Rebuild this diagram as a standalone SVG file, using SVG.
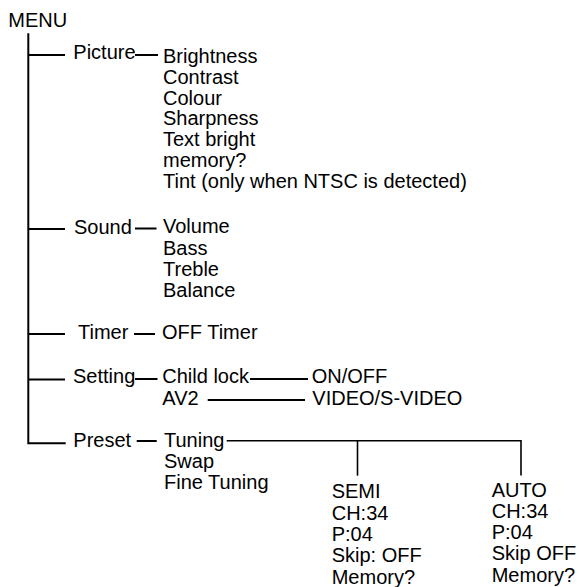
<svg xmlns="http://www.w3.org/2000/svg" width="579" height="587" viewBox="0 0 579 587">
<style>
text{font-family:"Liberation Sans",Arial,Helvetica,sans-serif;font-size:20px;fill:#000}
.c line,.c path{stroke:#000;stroke-width:2;fill:none}
.c .t{stroke-width:1.6}
</style>
<rect width="579" height="587" fill="#fff"/>
<g class="c" id="connectors">
<path d="M28.3 33.3V443.3H65.7"/>
<line x1="28.3" y1="55" x2="65" y2="55"/>
<line x1="135" y1="55" x2="158" y2="55"/>
<line x1="28.3" y1="229" x2="65" y2="229"/>
<line x1="135" y1="228.5" x2="156.5" y2="228.5"/>
<line x1="28.3" y1="334" x2="65" y2="334"/>
<line x1="134" y1="334" x2="155" y2="334"/>
<line x1="28.3" y1="379.5" x2="65" y2="379.5"/>
<line x1="135" y1="379" x2="157.5" y2="379"/>
<line x1="250" y1="379" x2="308" y2="379"/>
<line x1="207.7" y1="400" x2="305" y2="400"/>
<line x1="136.7" y1="441" x2="156.7" y2="441"/>
<path class="t" d="M226.7 440.7H521V475.5"/>
<line class="t" x1="357.5" y1="440.7" x2="357.5" y2="475.7"/>
</g>
<g id="menu"><text x="8.3" y="26.7">MENU</text></g>
<g id="picture"><text x="73.3" y="59.3">Picture</text></g>
<g id="picture-items">
<text x="163" y="62.7">Brightness</text>
<text x="163" y="83.6">Contrast</text>
<text x="163" y="104.5">Colour</text>
<text x="163" y="125.4">Sharpness</text>
<text x="163" y="146.3">Text bright</text>
<text x="163" y="167.2">memory?</text>
<text x="163" y="188.1">Tint (only when NTSC is detected)</text>
</g>
<g id="sound"><text x="74" y="234">Sound</text></g>
<g id="sound-items">
<text x="163" y="233.3">Volume</text>
<text x="163" y="254.6">Bass</text>
<text x="163" y="275.9">Treble</text>
<text x="163" y="297.2">Balance</text>
</g>
<g id="timer"><text x="78" y="339">Timer</text></g>
<g id="timer-items"><text x="162" y="339.3">OFF Timer</text></g>
<g id="setting"><text x="73" y="383">Setting</text></g>
<g id="setting-items">
<text x="162.3" y="382.7">Child lock</text>
<text x="162.3" y="405">AV2</text>
</g>
<g id="onoff"><text x="311.7" y="383">ON/OFF</text></g>
<g id="video"><text x="312.3" y="404.5">VIDEO/S-VIDEO</text></g>
<g id="preset"><text x="73.3" y="446.7">Preset</text></g>
<g id="preset-items">
<text x="164" y="446.7">Tuning</text>
<text x="164" y="468">Swap</text>
<text x="164" y="489.3">Fine Tuning</text>
</g>
<g id="semi">
<text x="331.7" y="498.3">SEMI</text>
<text x="331.7" y="519.6">CH:34</text>
<text x="331.7" y="540.9">P:04</text>
<text x="331.7" y="562.2">Skip: OFF</text>
<text x="331.7" y="583.5">Memory?</text>
</g>
<g id="auto">
<text x="491.7" y="496.5">AUTO</text>
<text x="491.7" y="517.8">CH:34</text>
<text x="491.7" y="539.1">P:04</text>
<text x="491.7" y="560.4">Skip OFF</text>
<text x="491.7" y="581.7">Memory?</text>
</g>
</svg>
